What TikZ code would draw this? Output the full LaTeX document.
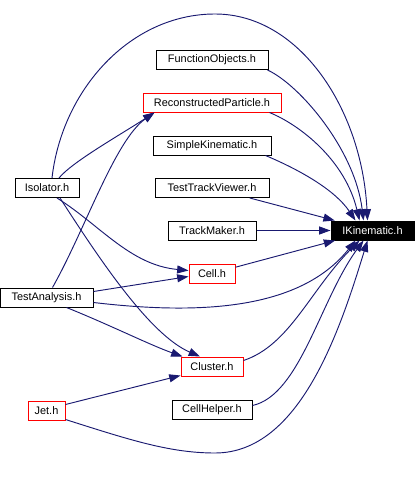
\documentclass[tikz,border=0pt]{standalone}
\usepackage{fontspec}
\setmainfont{Liberation Sans}
\usetikzlibrary{arrows.meta,calc}
\definecolor{depcol}{RGB}{25,25,112}
\definecolor{rimcol}{RGB}{255,0,0}

\begin{document}
\begin{tikzpicture}[x=0.75pt,y=-0.75pt,
  hdr/.style={draw=black,line width=0.75pt,minimum height=14.25pt,inner sep=0pt,
    font=\fontsize{8.2}{9.6}\selectfont},
  redhdr/.style={hdr,draw=rimcol},
  dep/.style={draw=depcol,line width=0.7pt,-{Triangle[length=8.5pt,width=6pt]}}]
\useasboundingbox (0,0) rectangle (416,478);
% include graph of IKinematic.h
\node[hdr,fill=black,text=white,minimum width=62.25pt] (ik) at (372.5,230.5) {IKinematic.h};
\node[hdr,minimum width=84pt] (fo) at (212,60) {FunctionObjects.h};
\node[redhdr,minimum width=103.5pt] (rp) at (212,102.5) {ReconstructedParticle.h};
\node[hdr,minimum width=88.5pt] (sk) at (212,145.5) {SimpleKinematic.h};
\node[hdr,minimum width=85.5pt] (ttv) at (212,188) {TestTrackViewer.h};
\node[hdr,minimum width=66pt] (tm) at (212,230.5) {TrackMaker.h};
\node[hdr,minimum width=48pt] (iso) at (47,188) {Isolator.h};
\node[redhdr,minimum width=34.5pt] (cell) at (212,273.5) {Cell.h};
\node[hdr,minimum width=69.75pt] (ta) at (46.5,297.5) {TestAnalysis.h};
\node[redhdr,minimum width=46.5pt] (cl) at (212,366.5) {Cluster.h};
\node[redhdr,minimum width=27.75pt] (jet) at (46.5,410.5) {Jet.h};
\node[hdr,minimum width=60pt] (ch) at (212,409.5) {CellHelper.h};
% edges into IKinematic.h
\draw[dep] ($(iso.north)+(5,0)$) .. controls (62,90) and (130,14) .. (215,14)
  .. controls (300,14) and (362,110) .. ($(ik.north)+(-5,0)$);
\draw[dep] ($(fo.south east)+(-1,0)$) .. controls (300,85) and (355,150) .. ($(ik.north)+(-9,0)$);
\draw[dep] ($(rp.south east)+(-12,0)$) .. controls (300,125) and (345,160) .. ($(ik.north)+(-13,0)$);
\draw[dep] ($(sk.south east)+(-6,0)$) .. controls (300,170) and (335,190) .. ($(ik.north)+(-17,0)$);
\draw[dep] (ttv) -- (ik);
\draw[dep] (tm) -- (ik);
\draw[dep] (cell) -- (ik);
\draw[dep] ($(ta.east)+(0,5)$) .. controls (200,315) and (300,310) .. ($(ik.south)+(-17,0)$);
\draw[dep] ($(cl.east)+(0,-6)$) .. controls (290,345) and (310,290) .. ($(ik.south)+(-13,0)$);
\draw[dep] ($(ch.east)+(0,-4)$) .. controls (300,395) and (320,300) .. ($(ik.south)+(-9,0)$);
\draw[dep] ($(jet.east)+(0,9)$) .. controls (130,440) and (170,453) .. (215,453)
  .. controls (300,453) and (340,330) .. ($(ik.south)+(-5,0)$);
% other includes
\draw[dep] ($(iso.north)+(12,0)$) .. controls (72,162) and (120,135) .. ($(rp.south west)+(12,0)$);
\draw[dep] ($(ta.north)+(6,0)$) .. controls (85,230) and (115,140) .. ($(rp.south west)+(12,0)$);
\draw[dep] ($(iso.south)+(10,0)$) .. controls (100,225) and (130,265) .. ($(cell.west)+(0,-3)$);
\draw[dep] ($(iso.south)+(13,0)$) .. controls (100,260) and (150,335) .. ($(cl.north)+(-12,0)$);
\draw[dep] ($(ta.east)+(0,-6)$) -- ($(cell.west)+(0,3)$);
\draw[dep] ($(ta.south)+(20,0)$) .. controls (110,325) and (150,345) .. ($(cl.north west)+(2,0)$);
\draw[dep] ($(jet.east)+(0,-6)$) -- ($(cl.south west)+(0,-1)$);
\end{tikzpicture}
\end{document}
